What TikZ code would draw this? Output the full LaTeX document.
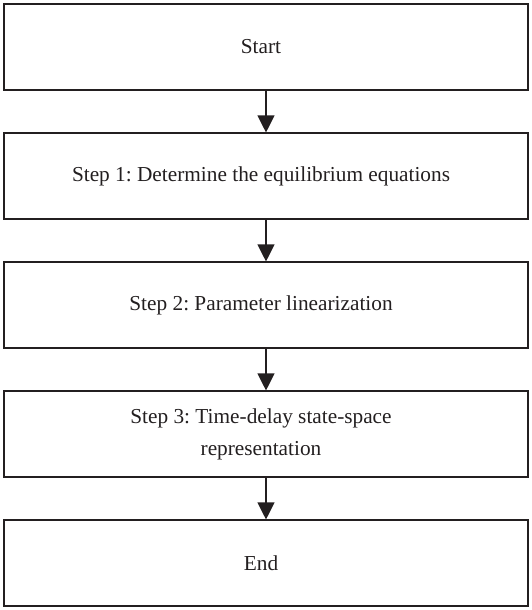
\documentclass[tikz,border=0pt]{standalone}
\usepackage{fontspec}
\setmainfont{Liberation Serif}
\usetikzlibrary{arrows.meta}
\definecolor{ink}{HTML}{231F20}
\frenchspacing
\tikzset{
  flowbox/.style={draw=ink, line width=1.1pt, minimum width=524pt, minimum height=86pt, inner sep=0pt},
  flowtext/.style={text=ink, font=\fontsize{21.3pt}{32pt}\selectfont\frenchspacing, align=center, inner sep=0pt},
  flowarrow/.style={draw=ink, line width=1.1pt, -{Triangle[length=17pt,width=17pt]}}
}
\begin{document}
\begin{tikzpicture}[x=1pt,y=-1pt]
\useasboundingbox (0,0) rectangle (531,610);
\node[flowbox] (b1) at (266,47) {};
\node[flowbox] (b2) at (266,176) {};
\node[flowbox] (b3) at (266,305) {};
\node[flowbox] (b4) at (266,434) {};
\node[flowbox] (b5) at (266,563) {};
\node[flowtext] (t1) at (261,47) {Start};
\node[flowtext] (t2) at (261,176) {Step 1: Determine the equilibrium equations};
\node[flowtext] (t3) at (261,305) {Step 2: Parameter linearization};
\node[flowtext] (t4) at (261,434) {Step 3: Time-delay state-space\\representation};
\node[flowtext] (t5) at (261,563) {End};
\draw[flowarrow] (b1.south) -- (b2.north);
\draw[flowarrow] (b2.south) -- (b3.north);
\draw[flowarrow] (b3.south) -- (b4.north);
\draw[flowarrow] (b4.south) -- (b5.north);
\end{tikzpicture}
\end{document}
